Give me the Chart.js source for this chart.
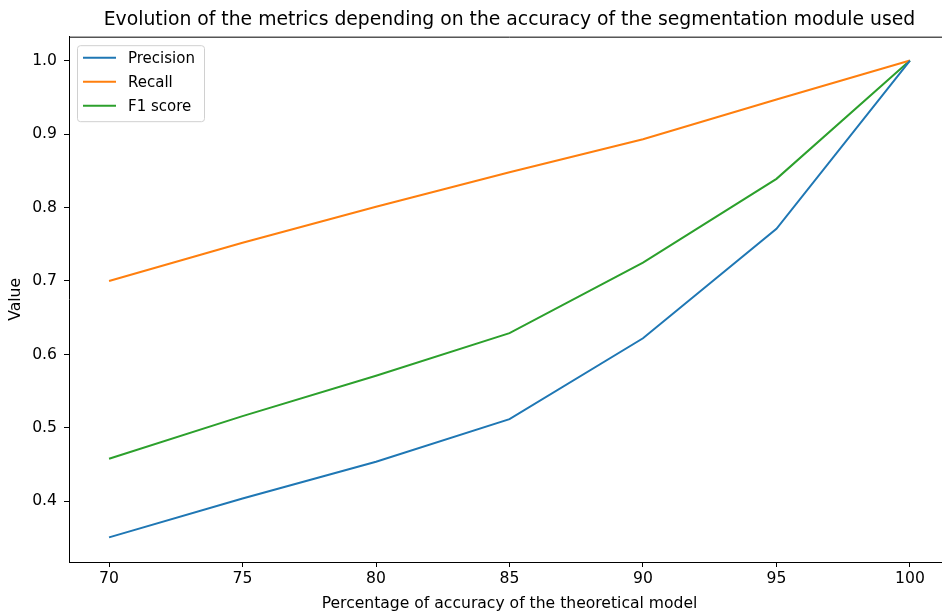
<!DOCTYPE html>
<html>
<head>
<meta charset="utf-8">
<script src="https://cdn.jsdelivr.net/npm/chart.js@4.4.0/dist/chart.umd.min.js"></script>
<style>
  html, body { margin: 0; padding: 0; background: #fff; overflow: hidden; }
  #frame { width: 942px; height: 615px; overflow: hidden; position: relative; }
  #box { width: 950px; height: 615px; position: absolute; left: 0; top: 0; }
</style>
</head>
<body>
<div id="frame"><div id="box"><canvas id="metricsChart"></canvas></div></div>
<script>
const accuracy = [70, 75, 80, 85, 90, 95, 100];
const precision = [0.351, 0.404, 0.454, 0.512, 0.622, 0.771, 1.0];
const recall = [0.700, 0.752, 0.801, 0.848, 0.893, 0.947, 1.0];
const f1Score = [0.458, 0.516, 0.571, 0.629, 0.725, 0.839, 1.0];
const seriesNames = ['Precision', 'Recall', 'F1 score'];
const chartTitle = 'Evolution of the metrics depending on the accuracy of the segmentation module used';
const xLabel = 'Percentage of accuracy of the theoretical model';
const yLabel = 'Value';

const FONT = 'DejaVu Sans';
const SMALL = 15.6;

function toPoints(values) {
    return accuracy.map((x, i) => ({ x: x, y: values[i] }));
}

// top and right spines, like matplotlib's box
const spinesPlugin = {
    id: 'spines',
    afterDraw(chart) {
        const a = chart.chartArea;
        const ctx = chart.ctx;
        ctx.save();
        ctx.strokeStyle = '#000';
        ctx.lineWidth = 1;
        ctx.beginPath();
        ctx.moveTo(a.left, a.top + 0.5);
        ctx.lineTo(a.right, a.top + 0.5);
        ctx.moveTo(a.right - 0.5, a.top);
        ctx.lineTo(a.right - 0.5, a.bottom);
        ctx.stroke();
        ctx.restore();
    }
};

// legend drawn inside the plot, upper left
const innerLegend = {
    id: 'innerLegend',
    afterDraw(chart) {
        const a = chart.chartArea;
        const ctx = chart.ctx;
        const x = a.left + 8, y = a.top + 8.5, w = 127, h = 76;
        ctx.save();
        ctx.fillStyle = 'rgba(255,255,255,0.8)';
        ctx.strokeStyle = '#d0d0d0';
        ctx.lineWidth = 1;
        ctx.beginPath();
        ctx.roundRect(x + 0.5, y + 0.5, w, h, 3);
        ctx.fill();
        ctx.stroke();
        ctx.font = '15px ' + FONT;
        ctx.textBaseline = 'middle';
        chart.data.datasets.forEach((ds, i) => {
            const rowY = y + 12.5 + i * 24;
            ctx.strokeStyle = ds.borderColor;
            ctx.lineWidth = 2;
            ctx.beginPath();
            ctx.moveTo(x + 6, rowY);
            ctx.lineTo(x + 39, rowY);
            ctx.stroke();
            ctx.fillStyle = '#000';
            ctx.fillText(ds.label, x + 51, rowY + 1);
        });
        ctx.restore();
    }
};

new Chart(document.getElementById('metricsChart'), {
    type: 'line',
    data: {
        datasets: [
            { label: seriesNames[0], data: toPoints(precision), borderColor: '#1f77b4' },
            { label: seriesNames[1], data: toPoints(recall), borderColor: '#ff7f0e' },
            { label: seriesNames[2], data: toPoints(f1Score), borderColor: '#2ca02c' }
        ]
    },
    options: {
        responsive: true,
        maintainAspectRatio: false,
        animation: false,
        layout: { padding: 0 },
        elements: {
            line: { borderWidth: 2, tension: 0, fill: false },
            point: { radius: 0, hoverRadius: 0 }
        },
        plugins: {
            legend: { display: false },
            tooltip: { enabled: false },
            title: {
                display: true,
                text: chartTitle,
                fullSize: false,
                color: '#000',
                font: { family: FONT, size: 18.8, weight: 'normal', lineHeight: 1.1 },
                padding: { top: 10, bottom: 6 }
            }
        },
        scales: {
            x: {
                type: 'linear',
                min: 68.5,
                max: 101.5,
                afterFit(scale) { scale.height = 53; },
                border: { display: true, color: '#000', width: 1 },
                grid: { display: true, drawOnChartArea: false, drawTicks: true, tickLength: 5, color: '#000' },
                ticks: {
                    stepSize: 5,
                    includeBounds: false,
                    padding: 3,
                    color: '#000',
                    font: { family: FONT, size: SMALL },
                    maxRotation: 0,
                    autoSkip: false
                },
                title: {
                    display: true,
                    text: xLabel,
                    color: '#000',
                    font: { family: FONT, size: SMALL },
                    padding: { top: 0, bottom: 2 }
                }
            },
            y: {
                type: 'linear',
                min: 0.3175,
                max: 1.0325,
                afterFit(scale) { scale.width = 69; },
                border: { display: true, color: '#000', width: 1 },
                grid: { display: true, drawOnChartArea: false, drawTicks: true, tickLength: 5, color: '#000' },
                ticks: {
                    stepSize: 0.1,
                    includeBounds: false,
                    padding: 7,
                    color: '#000',
                    font: { family: FONT, size: SMALL },
                    callback: v => v.toFixed(1)
                },
                title: {
                    display: true,
                    text: yLabel,
                    color: '#000',
                    font: { family: FONT, size: SMALL },
                    padding: { top: 7, bottom: 0 }
                }
            }
        }
    },
    plugins: [spinesPlugin, innerLegend]
});
</script>
</body>
</html>
